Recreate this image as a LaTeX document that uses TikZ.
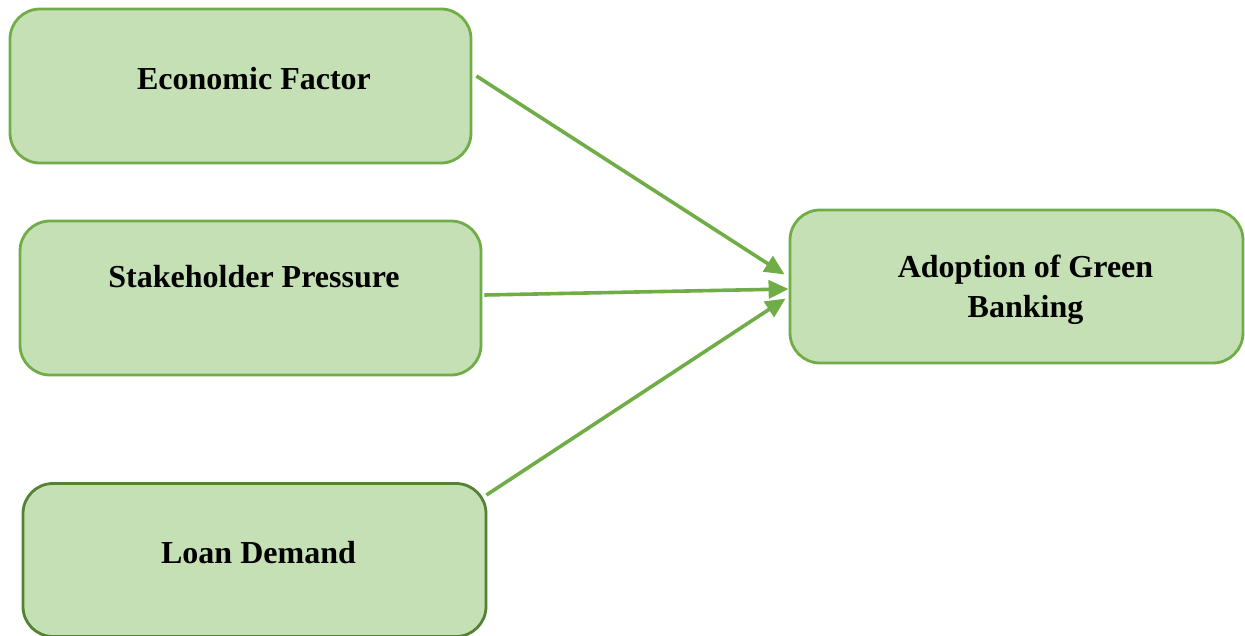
\documentclass[tikz,border=0pt]{standalone}
\usepackage{fontspec}
\setmainfont{Liberation Serif}
\usetikzlibrary{arrows.meta}
\definecolor{boxfill}{HTML}{C5E0B4}
\definecolor{boxline}{HTML}{70AD47}
\definecolor{boxdark}{HTML}{548235}
\begin{document}
\begin{tikzpicture}[x=1pt,y=-1pt,
  box/.style={draw=boxline, fill=boxfill, line width=2.8pt, rounded corners=30pt, inner sep=0pt},
  lbl/.style={font=\fontsize{32}{40}\selectfont\bfseries, align=center, inner sep=0pt},
  conn/.style={draw=boxline, line width=3.6pt, -{Triangle[length=20pt,width=18pt]}, shorten >=0pt}]
\useasboundingbox (0,0) rectangle (1245,635);
\node[box, minimum width=461pt, minimum height=154pt] (eco) at (240.5,86) {};
\node[box, minimum width=461pt, minimum height=154pt] (stake) at (250.5,298) {};
\node[box, draw=boxdark, minimum width=463pt, minimum height=153pt] (loan) at (254.5,560) {};
\node[box, minimum width=453pt, minimum height=153pt] (adopt) at (1016.5,286.5) {};
\node[lbl] (ecot) at (254,79) {Economic Factor};
\node[lbl] (staket) at (254,277) {Stakeholder Pressure};
\node[lbl] (loant) at (258.5,553) {Loan Demand};
\node[lbl] (adoptt) at (1025.5,290) {Adoption of Green\\Banking};
\draw[conn] ([shift={(4,-10)}]eco.east) -- ([shift={(-4,-12)}]adopt.west);
\draw[conn] ([shift={(2,-3)}]stake.east) -- ([shift={(0,2.5)}]adopt.west);
\draw[conn] ([shift={(-1,-65)}]loan.east) -- ([shift={(-3,12)}]adopt.west);
\end{tikzpicture}
\end{document}
